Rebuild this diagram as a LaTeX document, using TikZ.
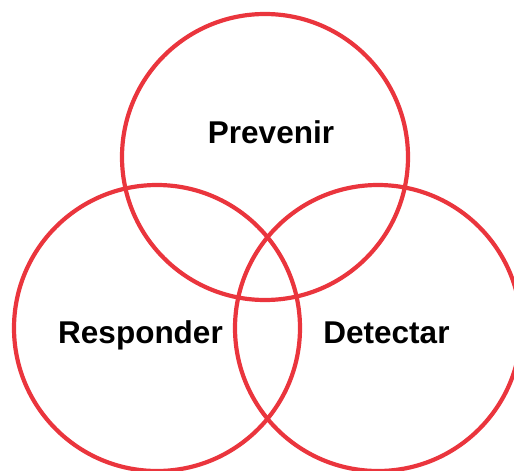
\documentclass[tikz,border=0pt]{standalone}
\usepackage{fontspec}
\setmainfont{Liberation Sans}
\definecolor{ringred}{HTML}{EA353D}
\begin{document}
\begin{tikzpicture}[x=1pt,y=-1pt,
  ring/.style={draw=ringred,line width=4.2pt,circle,minimum size=286pt,inner sep=0pt},
  lbl/.style={font=\fontsize{31.5}{37}\selectfont\bfseries,anchor=base,inner sep=0pt}]
\useasboundingbox (0,0) rectangle (514,471);
\node[ring] (top) at (265,157) {};
\node[ring] (left) at (157,328) {};
\node[ring] (right) at (378,328) {};
\node[lbl] (prev) at (271,143) {Prevenir};
\node[lbl] (resp) at (140.5,343) {Responder};
\node[lbl] (det) at (386.5,343) {Detectar};
\end{tikzpicture}
\end{document}
